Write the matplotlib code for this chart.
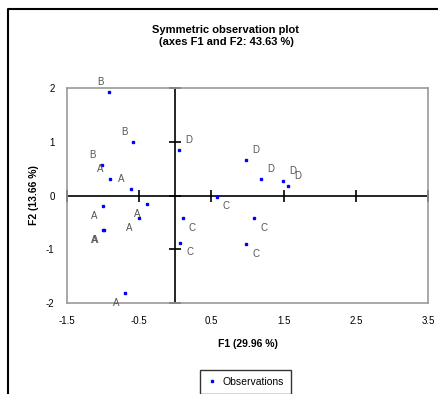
import matplotlib
matplotlib.use("Agg")
import matplotlib.pyplot as plt
from matplotlib.lines import Line2D
import numpy as np

plt.rcParams['font.family'] = ['Liberation Sans', 'DejaVu Sans']

# observations
obs_names = ['A', 'A', 'A', 'A', 'A', 'A', 'A', 'A',
             'B', 'B', 'B',
             'C', 'C', 'C', 'C', 'C',
             'D', 'D', 'D', 'D', 'D']
f1 = [-0.909, -0.618, -0.997, -0.396, -0.507, -0.997, -0.990, -0.697,
      -0.918, -0.584, -1.02,
      0.573, 0.102, 0.065, 1.09, 0.979,
      0.055, 0.975, 1.187, 1.49, 1.56]
f2 = [0.307, 0.127, -0.195, -0.158, -0.419, -0.648, -0.640, -1.81,
      1.93, 1.0, 0.57,
      -0.02, -0.419, -0.878, -0.419, -0.902,
      0.847, 0.66, 0.31, 0.275, 0.182]

xticks = [-1.5, -0.5, 0.5, 1.5, 2.5, 3.5]
yticks = [-2, -1, 0, 1, 2]
title = "Symmetric observation plot\n(axes F1 and F2: 43.63 %)"
xlabel = "F1 (29.96 %)"
ylabel = "F2 (13.66 %)"

fig = plt.figure(figsize=(4.38, 3.94), dpi=100)
ax = fig.add_axes([67 / 438, 1 - 303 / 394, 361 / 438, 215 / 394])

# zero axes with crossing tick marks
ax.axhline(0, color='black', lw=1.2, zorder=1)
ax.axvline(0, color='black', lw=1.2, zorder=1)
ax.plot(xticks, np.zeros(len(xticks)), ls='none', marker='|', ms=8,
        mew=1.2, color='black', zorder=1, clip_on=False)
ax.plot(np.zeros(len(yticks)), yticks, ls='none', marker='_', ms=8,
        mew=1.2, color='black', zorder=1, clip_on=False)

ax.plot(f1, f2, ls='none', marker='s', ms=2.0, color='#0000ff',
        label='Observations', zorder=3, clip_on=False)

for name, x, y in zip(obs_names, f1, f2):
    dx = 7 if x > 0 else -6.5
    dy = 7 if y > 0 else -7
    ax.annotate(name, (x, y), xytext=(dx, dy), textcoords='offset points',
                ha='center', va='center', fontsize=7, color='#555555')

ax.set_xlim(-1.5, 3.5)
ax.set_ylim(-2, 2)
ax.set_xticks(xticks)
ax.set_yticks(yticks)
ax.set_xticklabels([f"{t:g}" for t in xticks])
ax.set_yticklabels([f"{t:g}" for t in yticks])
ax.tick_params(length=0, labelsize=7, pad=9)
for s in ax.spines.values():
    s.set_color('#999999')
    s.set_linewidth(1.2)

ax.set_xlabel(xlabel, fontsize=7.5, fontweight='bold', labelpad=10)
ax.set_ylabel(ylabel, fontsize=7.5, fontweight='bold', labelpad=5)

fig.text(226 / 438, 1 - 36 / 394, title, ha='center', va='center',
         fontsize=8, fontweight='bold', linespacing=1.3)

leg = ax.legend(loc='center', bbox_to_anchor=(245.5 / 438, 12 / 394),
                bbox_transform=fig.transFigure, fontsize=7.5, frameon=True,
                fancybox=False, handlelength=1.0, handletextpad=0.5,
                borderpad=0.7, borderaxespad=0, markerscale=0.8)
leg.get_frame().set_edgecolor('black')
leg.get_frame().set_linewidth(1.0)

# outer frame, cropped at right and bottom
fig.add_artist(Line2D([8 / 438, 8 / 438, 1.0], [0.0, 1 - 9 / 394, 1 - 9 / 394],
                      transform=fig.transFigure, color='black', lw=1.5))

fig.savefig("out.png", dpi=100)
